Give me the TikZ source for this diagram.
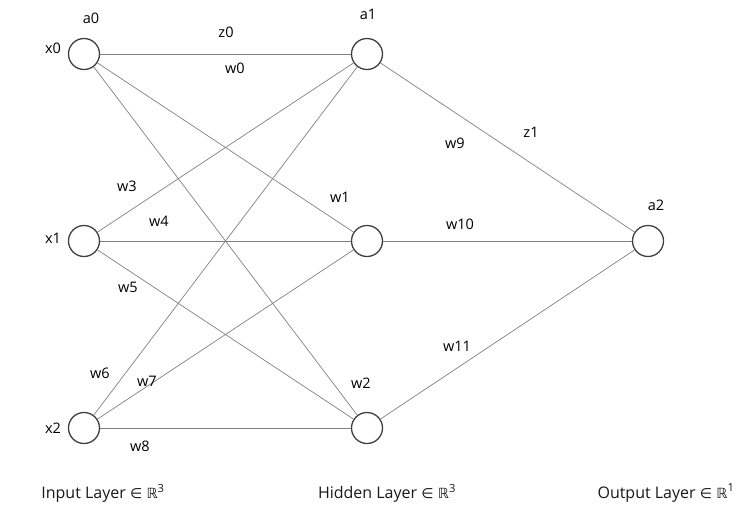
\documentclass[tikz,border=0pt]{standalone}
\usepackage{fontspec}
\setmainfont{Open Sans}
\newfontfamily\symfont{DejaVu Sans}
\newcommand{\inR}{{\symfont\fontsize{14}{16}\selectfont ∈ ℝ}}
\begin{document}
\begin{tikzpicture}[x=1pt,y=-1pt,
  neuron/.style={circle,draw=black!75,line width=1.3pt,minimum size=31pt,inner sep=0pt},
  conn/.style={draw=black!50,line width=0.7pt},
  lbl/.style={font=\fontsize{14.5}{16}\selectfont,text=black,inner sep=0pt},
  layer/.style={font=\fontsize{16}{18}\selectfont,text=black!90,inner sep=0pt}]
\useasboundingbox (0,0) rectangle (756,523);
\node[neuron] (i0) at (84,54) {};
\node[neuron] (i1) at (84,241) {};
\node[neuron] (i2) at (84,428) {};
\node[neuron] (h0) at (367,54) {};
\node[neuron] (h1) at (367,241) {};
\node[neuron] (h2) at (367,428) {};
\node[neuron] (o) at (648,241) {};
\foreach \a in {i0,i1,i2}{\foreach \b in {h0,h1,h2}{\draw[conn] (\a) -- (\b);}}
\foreach \b in {h0,h1,h2}{\draw[conn] (\b) -- (o);}
\node[lbl] (la0) at (91,18) {a0};
\node[lbl] (lx0) at (53,48) {x0};
\node[lbl] (lz0) at (226,32) {z0};
\node[lbl] (lw0) at (235,68) {w0};
\node[lbl] (la1) at (368,14) {a1};
\node[lbl] (lw9) at (455,143) {w9};
\node[lbl] (lz1) at (531,132) {z1};
\node[lbl] (lw3) at (127,186) {w3};
\node[lbl] (lw4) at (159,221) {w4};
\node[lbl] (lw1) at (340,197) {w1};
\node[lbl] (lw10) at (460,224) {w10};
\node[lbl] (la2) at (656,205) {a2};
\node[lbl] (lx1) at (53,238) {x1};
\node[lbl] (lw5) at (128,287) {w5};
\node[lbl] (lw11) at (457,346) {w11};
\node[lbl] (lw6) at (100,373) {w6};
\node[lbl] (lw7) at (147,381) {w7};
\node[lbl] (lw2) at (361,383) {w2};
\node[lbl] (lx2) at (53,428) {x2};
\node[lbl] (lw8) at (140,446) {w8};
\node[layer] (lin) at (103,493) {Input Layer \inR\textsuperscript{3}};
\node[layer] (lhid) at (387,493) {Hidden Layer \inR\textsuperscript{3}};
\node[layer] (lout) at (666,493) {Output Layer \inR\textsuperscript{1}};
\end{tikzpicture}
\end{document}
